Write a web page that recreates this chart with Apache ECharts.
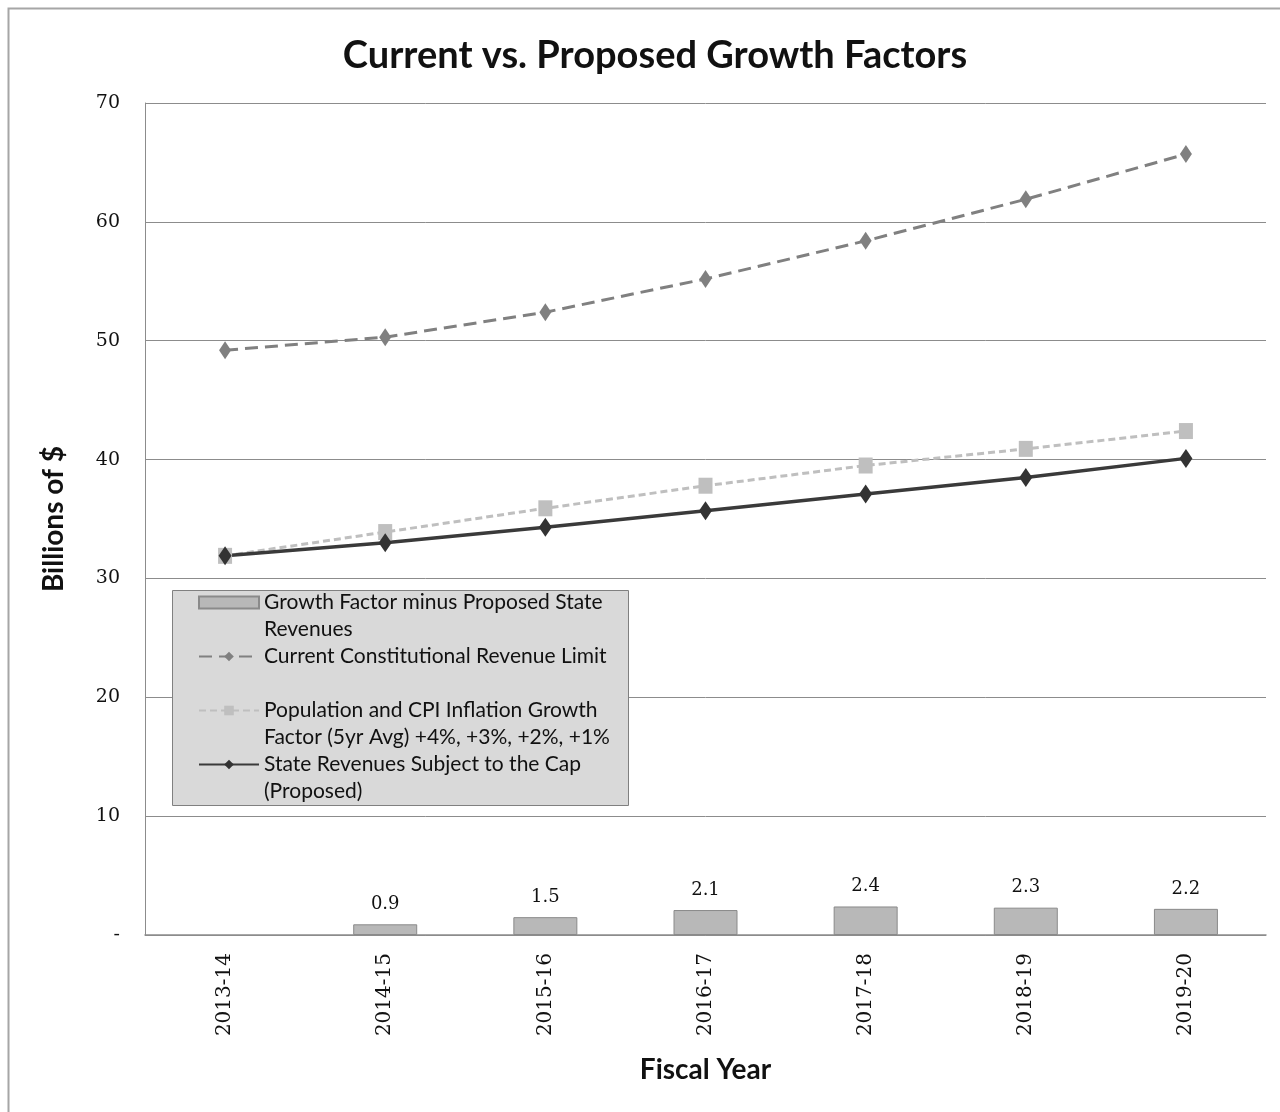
<!DOCTYPE html>
<html>
<head>
<meta charset="utf-8">
<script src="https://cdn.jsdelivr.net/npm/echarts@6/dist/echarts.min.js"></script>
<style>html,body{margin:0;padding:0;background:#fff;}#c{width:1280px;height:1112px;}</style>
</head>
<body>
<div id="c"></div>
<script>
const categories = ['2013-14','2014-15','2015-16','2016-17','2017-18','2018-19','2019-20'];
const growthMinusRevenues = [null, 0.9, 1.5, 2.1, 2.4, 2.3, 2.2];
const currentLimit = [49.2, 50.3, 52.4, 55.2, 58.4, 61.9, 65.7];
const popCpiGrowth = [31.9, 33.9, 35.9, 37.8, 39.5, 40.9, 42.4];
const stateRevenues = [31.9, 33.0, 34.3, 35.7, 37.1, 38.5, 40.1];
const yTicks = [0, 10, 20, 30, 40, 50, 60, 70];

const names = [
  'Growth Factor minus Proposed State\nRevenues',
  'Current Constitutional Revenue Limit\n ',
  'Population and CPI Inflation Growth\nFactor (5yr Avg) +4%, +3%, +2%, +1%',
  'State Revenues Subject to the Cap\n(Proposed)'
];

const sans = 'Lato, "Open Sans", sans-serif';
const serif = '"DejaVu Serif", serif';

const chart = echarts.init(document.getElementById('c'));
chart.setOption({
  animation: false,
  backgroundColor: '#ffffff',
  title: {
    text: 'Current vs. Proposed Growth Factors',
    left: 650, top: 32, textAlign: 'center',
    textStyle: { fontFamily: sans, fontWeight: 'bold', fontSize: 38, color: '#111111' }
  },
  graphic: [
    { type: 'rect', z: 0, shape: { x: 8.5, y: 8.5, width: 1300, height: 1200 },
      style: { fill: 'none', stroke: '#a6a6a6', lineWidth: 2 } },
    { type: 'rect', z: 3, shape: { x: 172.5, y: 590.5, width: 456, height: 215 },
      style: { fill: '#d9d9d9', stroke: '#808080', lineWidth: 1 } }
  ],
  legend: {
    orient: 'vertical',
    left: 198, top: 562,
    padding: 0,
    itemGap: -27,
    itemWidth: 60, itemHeight: 12,
    z: 5,
    formatter: name => '\n' + name,
    data: [
      { name: names[0], icon: 'rect' },
      { name: names[1] },
      { name: names[2] },
      { name: names[3] }
    ],
    textStyle: { fontFamily: sans, fontSize: 21, color: '#111111', lineHeight: 27 }
  },
  grid: { left: 145, right: 14, top: 103, bottom: 177, containLabel: false },
  xAxis: {
    type: 'category',
    data: categories,
    name: 'Fiscal Year',
    nameLocation: 'middle',
    nameGap: 121,
    nameTextStyle: { fontFamily: sans, fontWeight: 'bold', fontSize: 28, color: '#111111' },
    axisLine: { lineStyle: { color: '#8c8c8c', width: 1.5 } },
    axisTick: { show: false },
    axisLabel: { rotate: 90, margin: 18, fontFamily: serif, fontSize: 20, color: '#111111' }
  },
  yAxis: {
    type: 'value',
    min: 0, max: 70, interval: 10,
    name: 'Billions of $',
    nameLocation: 'middle',
    nameGap: 77,
    nameTextStyle: { fontFamily: sans, fontWeight: 'bold', fontSize: 28, color: '#111111' },
    axisLine: { show: true, lineStyle: { color: '#8c8c8c', width: 1 } },
    axisTick: { show: false },
    splitLine: { lineStyle: { color: '#8c8c8c', width: 1 } },
    axisLabel: {
      margin: 25, fontFamily: serif, fontSize: 19, color: '#111111',
      formatter: v => (yTicks.indexOf(v) >= 0 ? (v === 0 ? '-' : String(v)) : '')
    }
  },
  series: [
    {
      name: names[0], type: 'bar', data: growthMinusRevenues,
      barWidth: 64,
      itemStyle: { color: '#b8b8b8', borderColor: '#8a8a8a', borderWidth: 1 },
      label: { show: true, position: 'top', distance: 11, fontFamily: serif, fontSize: 18, color: '#111111',
        formatter: p => p.value.toFixed(1) }
    },
    {
      name: names[1], type: 'line', data: currentLimit,
      symbol: 'diamond', symbolSize: [12, 18],
      lineStyle: { color: '#808080', width: 3, type: [13, 7] },
      itemStyle: { color: '#808080' }
    },
    {
      name: names[2], type: 'line', data: popCpiGrowth,
      symbol: 'rect', symbolSize: [14, 16],
      lineStyle: { color: '#bfbfbf', width: 3, type: [7, 4] },
      itemStyle: { color: '#bfbfbf' }
    },
    {
      name: names[3], type: 'line', data: stateRevenues,
      symbol: 'diamond', symbolSize: [13, 19],
      lineStyle: { color: '#3a3a3a', width: 3.5 },
      itemStyle: { color: '#333333' }
    }
  ]
});
</script>
</body>
</html>
